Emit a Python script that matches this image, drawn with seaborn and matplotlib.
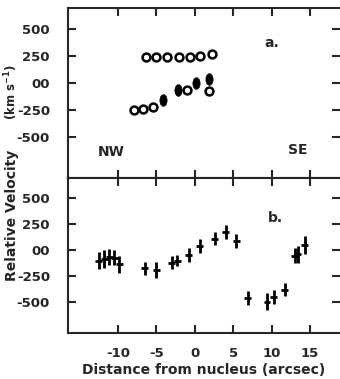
import matplotlib
matplotlib.use("Agg")
import matplotlib.pyplot as plt
import seaborn as sns
import pandas as pd
from matplotlib.path import Path
from matplotlib.transforms import Affine2D

# panel a: open circles and filled (elongated) points
a_open_x = [-6.3, -5.1, -3.6, -2.1, -0.6, 0.7, 2.2, -7.9, -6.7, -5.4, -1.0, 1.9]
a_open_v = [240, 237, 240, 243, 238, 247, 265, -250, -241, -219, -65, -71]
a_filled_x = [-4.1, -2.2, 0.2, 1.9]
a_filled_v = [-157, -65, -3, 34]

# panel b: crosses with error bars
b_x = [-12.5, -11.8, -11.1, -10.5, -9.8, -6.5, -5.0, -3.0, -2.3, -0.8, 0.65,
       2.6, 4.0, 5.4, 6.9, 9.4, 10.3, 11.7, 13.0, 13.4, 14.3]
b_v = [-100, -84, -64, -75, -136, -176, -192, -122, -100, -48, 38,
       111, 174, 87, -462, -494, -452, -380, -53, -42, 48]
b_verr = [83, 88, 77, 72, 80, 64, 75, 64, 56, 67, 67,
          64, 64, 64, 69, 80, 64, 64, 75, 80, 85]
b_xerr = 0.45

yticks = [500, 250, 0, -250, -500]
ytick_labels = ["500", "250", "00", "-250", "-500"]
xticks = [-10, -5, 0, 5, 10, 15]
xtick_labels = ["-10", "-5", "0", "5", "10", "15"]

sns.set_style("ticks")
plt.rcParams['font.family'] = ['DejaVu Sans']
plt.rcParams['font.weight'] = 'bold'

df_open = pd.DataFrame({"x": a_open_x, "v": a_open_v})
df_filled = pd.DataFrame({"x": a_filled_x, "v": a_filled_v})
df_b = pd.DataFrame({"x": b_x, "v": b_v, "err": b_verr})

fig = plt.figure(figsize=(3.4, 3.79), dpi=100)
ax1 = fig.add_axes([0.2, 0.530, 0.8, 0.449])
ax2 = fig.add_axes([0.2, 0.121, 0.8, 0.409])

ellipse = Path.unit_circle().transformed(Affine2D().scale(0.62, 1.0))

sns.scatterplot(data=df_open, x="x", y="v", ax=ax1, marker="o", s=32,
                facecolor="white", edgecolor="black", linewidth=1.8)
sns.scatterplot(data=df_filled, x="x", y="v", ax=ax1, marker=ellipse, s=70,
                color="black", edgecolor="black", linewidth=0.5)

ax2.errorbar(df_b["x"], df_b["v"], xerr=b_xerr, yerr=df_b["err"], fmt="none",
             ecolor="black", elinewidth=2.0, capsize=0)

ax1.set_ylim(-880, 694)
ax2.set_ylim(-798, 692)

for ax in (ax1, ax2):
    ax.set_xlim(-16.5, 18.9)
    ax.set_xticks(xticks)
    ax.set_yticks(yticks)
    ax.set_yticklabels(ytick_labels, fontsize=9.5, fontweight="bold")
    ax.tick_params(direction="in", length=6, width=1.5, top=True, right=True,
                   bottom=True, left=True)
    ax.tick_params(axis="y", pad=13)
    ax.tick_params(axis="x", pad=10)
    ax.spines["right"].set_visible(False)
    for s in ("left", "top", "bottom"):
        ax.spines[s].set_linewidth(1.5)
    ax.set_xlabel("")
    ax.set_ylabel("")

ax1.set_xticklabels([])
ax2.set_xticklabels(xtick_labels, fontsize=9.5, fontweight="bold")
ax2.set_xlabel("Distance from nucleus (arcsec)", fontsize=10, fontweight="bold",
               labelpad=2)

ax1.text(10.0, 370, "a.", fontsize=10, fontweight="bold", ha="center", va="center")
ax1.text(-10.9, -640, "NW", fontsize=10, fontweight="bold", ha="center", va="center")
ax1.text(13.4, -620, "SE", fontsize=10, fontweight="bold", ha="center", va="center")
ax2.text(10.5, 308, "b.", fontsize=10, fontweight="bold", ha="center", va="center")

fig.text(12 / 340, 1 - 215 / 379, "Relative Velocity", rotation=90,
         fontsize=10, fontweight="bold", ha="center", va="center")
fig.text(11 / 340, 1 - 92 / 379, "(km s$^{-1}$)", rotation=90,
         fontsize=8.5, fontweight="bold", ha="center", va="center")

fig.savefig("out.png", dpi=100)
